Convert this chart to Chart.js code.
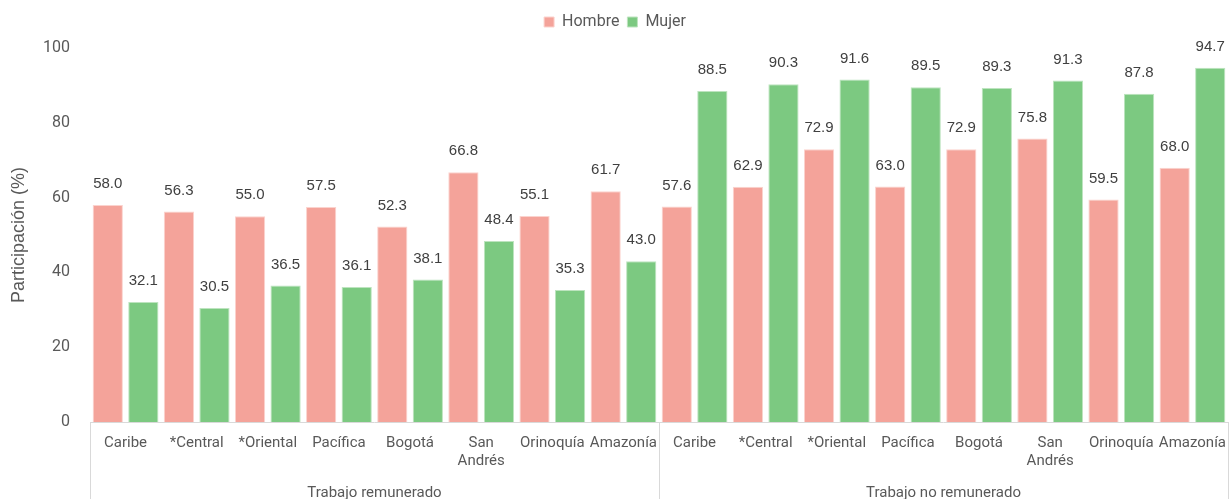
<!DOCTYPE html>
<html>
<head>
<meta charset="utf-8">
<script src="https://cdn.jsdelivr.net/npm/chart.js@4/dist/chart.umd.min.js"></script>
<style>
  html, body { margin: 0; padding: 0; background: #fff; }
  #wrap { width: 1230px; height: 499px; }
</style>
</head>
<body>
<div id="wrap"><canvas id="chart"></canvas></div>
<script>
// Regions (repeated for both groups)
const regions = [['Caribe'], ['*Central'], ['*Oriental'], ['Pacífica'], ['Bogotá'], ['San', 'Andrés'], ['Orinoquía'], ['Amazonía']];
const groups = ['Trabajo remunerado', 'Trabajo no remunerado'];

const hombre = [58.0, 56.3, 55.0, 57.5, 52.3, 66.8, 55.1, 61.7,
                57.6, 62.9, 72.9, 63.0, 72.9, 75.8, 59.5, 68.0];
const mujer  = [32.1, 30.5, 36.5, 36.1, 38.1, 48.4, 35.3, 43.0,
                88.5, 90.3, 91.6, 89.5, 89.3, 91.3, 87.8, 94.7];

const yTicks = [0, 20, 40, 60, 80, 100];

const labels = [...regions, ...regions];
const narrow = "'Liberation Sans Narrow', 'Roboto', sans-serif";
const txt = '#595959';
const lineCol = '#d9d9d9';

// extra room under the legend
const legendGap = {
  id: 'legendGap',
  afterInit(chart) {
    const lg = chart.legend;
    if (!lg) return;
    const fit = lg.fit;
    lg.fit = function () { fit.call(this); this.height += 8; };
  }
};

// value labels above bars
const valueLabels = {
  id: 'valueLabels',
  afterDatasetsDraw(chart) {
    const ctx = chart.ctx;
    ctx.save();
    ctx.font = "15px 'Liberation Sans', Arial, sans-serif";
    ctx.fillStyle = '#404040';
    ctx.textAlign = 'center';
    ctx.textBaseline = 'middle';
    chart.data.datasets.forEach((ds, i) => {
      chart.getDatasetMeta(i).data.forEach((bar, j) => {
        ctx.fillText(ds.data[j].toFixed(1), bar.x, bar.y - 21);
      });
    });
    ctx.restore();
  }
};

// group labels and separators under the x axis
const groupAxis = {
  id: 'groupAxis',
  afterDraw(chart) {
    const ctx = chart.ctx;
    const x = chart.scales.x;
    const top = chart.chartArea.bottom;
    const bottom = chart.height;
    const per = regions.length;
    const step = x.getPixelForValue(1) - x.getPixelForValue(0);
    ctx.save();
    ctx.strokeStyle = lineCol;
    ctx.lineWidth = 1;
    for (let g = 0; g <= groups.length; g++) {
      const px = Math.round(x.getPixelForValue(g * per) - step / 2) + 0.5;
      ctx.beginPath();
      ctx.moveTo(px, top);
      ctx.lineTo(px, bottom);
      ctx.stroke();
    }
    ctx.font = '15px ' + narrow;
    ctx.fillStyle = txt;
    ctx.textAlign = 'center';
    ctx.textBaseline = 'middle';
    groups.forEach((name, g) => {
      const a = x.getPixelForValue(g * per);
      const b = x.getPixelForValue(g * per + per - 1);
      ctx.fillText(name, (a + b) / 2, top + 71);
    });
    ctx.restore();
  }
};

new Chart(document.getElementById('chart'), {
  type: 'bar',
  data: {
    labels: labels,
    datasets: [
      {
        label: 'Hombre',
        data: hombre,
        backgroundColor: '#f4a39a',
        borderColor: '#fbd3ce',
        borderWidth: 1,
        categoryPercentage: 1,
        barPercentage: 0.85
      },
      {
        label: 'Mujer',
        data: mujer,
        backgroundColor: '#7cc981',
        borderColor: '#bde4bf',
        borderWidth: 1,
        categoryPercentage: 1,
        barPercentage: 0.85
      }
    ]
  },
  options: {
    responsive: true,
    maintainAspectRatio: false,
    animation: false,
    layout: { padding: { top: 6, right: 0, bottom: 0, left: 0 } },
    scales: {
      x: {
        grid: { display: false },
        border: { display: true, color: lineCol },
        ticks: {
          color: txt,
          font: { family: narrow, size: 15 },
          maxRotation: 0,
          autoSkip: false,
          padding: 4
        },
        afterFit(scale) { scale.height = 77; }
      },
      y: {
        min: 0,
        max: 100,
        afterBuildTicks(scale) { scale.ticks = yTicks.map(v => ({ value: v })); },
        grid: { display: false },
        border: { display: false },
        ticks: {
          color: txt,
          font: { family: narrow, size: 16 },
          padding: 12
        },
        title: {
          display: true,
          text: 'Participación (%)',
          color: txt,
          font: { family: "'Liberation Sans', Arial, sans-serif", size: 18 },
          padding: { top: 8, bottom: 0 }
        },
        afterFit(scale) { scale.width = 90; }
      }
    },
    plugins: {
      legend: {
        position: 'top',
        labels: {
          color: txt,
          font: { family: narrow, size: 16 },
          boxWidth: 10,
          boxHeight: 10,
          padding: 8
        }
      },
      tooltip: { enabled: false }
    }
  },
  plugins: [legendGap, valueLabels, groupAxis]
});
</script>
</body>
</html>
